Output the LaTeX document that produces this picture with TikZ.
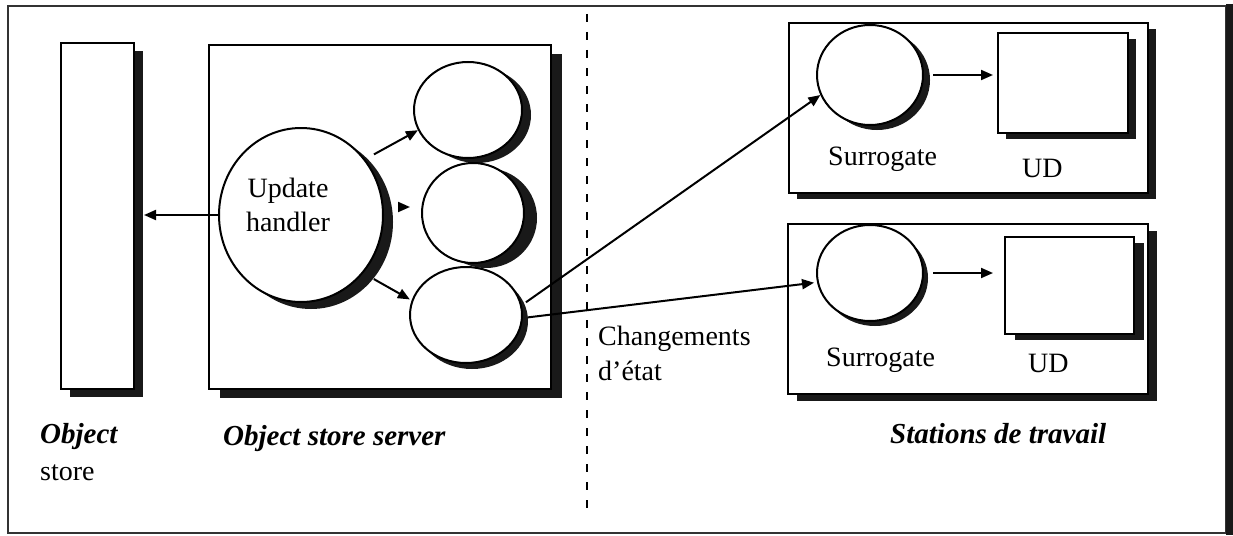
\documentclass[tikz,border=0pt]{standalone}
\usepackage{fontspec}
\setmainfont{Liberation Serif}
\usetikzlibrary{shapes.geometric,shadows,arrows.meta}
\tikzset{
  shbox/.style 2 args={rectangle, draw, line width=2pt, fill=white, inner sep=0pt,
    anchor=north west, drop shadow={shadow xshift=#1, shadow yshift=#2, opacity=1, fill=black!90}},
  ell/.style n args={4}{ellipse, draw, line width=2pt, fill=white, inner sep=0pt,
    minimum width=#1, minimum height=#2,
    drop shadow={shadow xshift=#3, shadow yshift=#4, opacity=1, fill=black!90}},
  arr/.style={line width=2pt, -{Triangle[length=12pt,width=10pt]}},
  txt/.style={font=\fontsize{28}{34}\selectfont, inner sep=0pt},
  bi/.style={font=\fontsize{29}{34}\selectfont\bfseries\itshape, inner sep=0pt},
}
\begin{document}
\begin{tikzpicture}[x=1pt,y=-1pt]
\useasboundingbox (0,0) rectangle (1233,535);
\fill[white] (0,0) rectangle (1233,535);
% outer frame
\draw[line width=1.6pt, black!80] (8,6) rectangle (1226,533);
\draw[line width=7pt, black!90] (1229.5,4) -- (1229.5,535);
% separator
\draw[line width=2pt, dash pattern=on 8pt off 10pt] (587,14) -- (587,510);

% boxes
\node[shbox={9pt}{-8pt}, minimum width=73pt, minimum height=346pt] (os) at (60,42) {};
\node[shbox={11pt}{-9pt}, minimum width=342pt, minimum height=344pt] (srv) at (208,44) {};
\node[shbox={8pt}{-6pt}, minimum width=359pt, minimum height=170pt] (st1) at (788,22) {};
\node[shbox={9pt}{-7pt}, minimum width=360pt, minimum height=170pt] (st2) at (787,223) {};
\node[shbox={8pt}{-6pt}, minimum width=130pt, minimum height=100pt] (ud1) at (997,32) {};
\node[shbox={10pt}{-6pt}, minimum width=129pt, minimum height=97pt] (ud2) at (1004,236) {};

% ellipses
\node[ell={164pt}{174pt}{10pt}{-7pt}] (uh) at (301,215) {};
\node[ell={108pt}{96pt}{9pt}{-5pt}] (c1) at (468,110) {};
\node[ell={102pt}{100pt}{13pt}{-5pt}] (c2) at (473,213) {};
\node[ell={112pt}{96pt}{6pt}{-6pt}] (c3) at (466,315) {};
\node[ell={106pt}{100pt}{7pt}{-5pt}] (s1) at (870,75) {};
\node[ell={106pt}{96pt}{5pt}{-5pt}] (s2) at (870,273) {};

% texts
\node[txt, align=center] (uhl) at (288,205) {Update\\handler};
\node[bi, anchor=base west] (oslab) at (40,443) {Object};
\node[txt, anchor=base west] (oslab2) at (40,480) {store};
\node[bi, anchor=base west] (srvlab) at (223,445) {Object store server};
\node[bi, anchor=base west] (stlab) at (890,443) {Stations de travail};
\node[txt, anchor=base west] (chg) at (598,345) {Changements};
\node[txt, anchor=base west] (chg2) at (598,380) {d’état};
\node[txt, anchor=base west] (sur1) at (828,165) {Surrogate};
\node[txt, anchor=base west] (udl1) at (1022,177) {UD};
\node[txt, anchor=base west] (sur2) at (826,366) {Surrogate};
\node[txt, anchor=base west] (udl2) at (1028,372) {UD};

% connectors
\draw[arr] (uh.west) -- ([xshift=9pt]uh.west -| os.east);
\draw[arr, shorten <=10pt] (uh.41) -- (c1.202);
\draw[arr, shorten <=15pt, shorten >=11pt] ([yshift=8pt]uh.east) -- ([yshift=8pt]uh.east -| c2.west);
\draw[arr, shorten <=12pt, shorten >=2pt] (uh.-43) -- (c3.165);
\draw[arr, shorten <=5pt] (c3.10) -- (s1.202);
\draw[arr, shorten <=5pt, shorten >=3pt] (c3.-3) -- (s2.190);
\draw[arr, shorten <=9pt, shorten >=4pt] (s1.east) -- (s1.east -| ud1.west);
\draw[arr, shorten <=9pt, shorten >=11pt] (s2.east) -- (s2.east -| ud2.west);
\end{tikzpicture}
\end{document}
